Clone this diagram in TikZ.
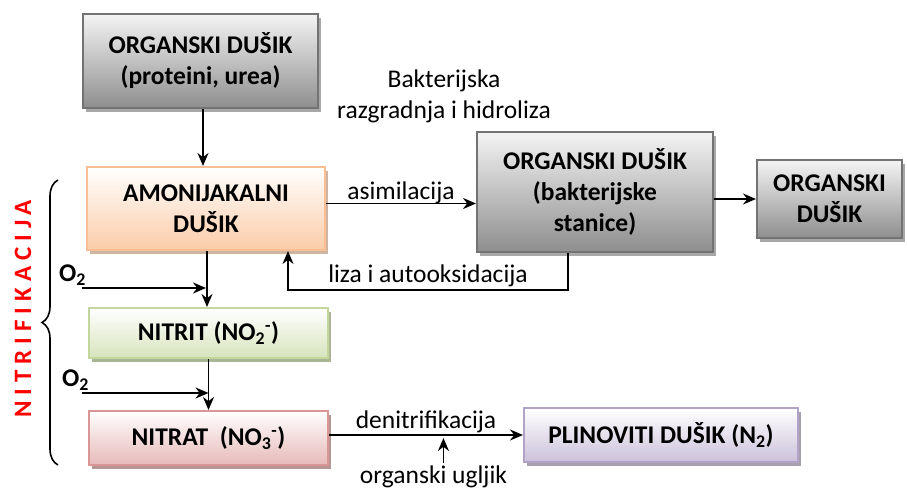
\documentclass[tikz,border=0pt]{standalone}
\usepackage{fontspec}
\setmainfont{Carlito}
\newfontfamily\razmak[LetterSpace=24]{Carlito}
\usetikzlibrary{arrows.meta,shadows,decorations.pathreplacing}

\definecolor{sivagore}{HTML}{F4F4F4}
\definecolor{sivadolje}{HTML}{8E8E8E}
\definecolor{sivarub}{HTML}{737373}
\definecolor{sivasjena}{HTML}{A8A8A8}
\definecolor{narrub}{HTML}{F9BE93}
\definecolor{nardolje}{HTML}{FBCCA8}
\definecolor{narsjena}{HTML}{CDB5A2}
\definecolor{zelrub}{HTML}{C3D69B}
\definecolor{zeldolje}{HTML}{D7E4BD}
\definecolor{zelsjena}{HTML}{AAB596}
\definecolor{crvrub}{HTML}{D99694}
\definecolor{crvdolje}{HTML}{E6B9B8}
\definecolor{crvsjena}{HTML}{B79595}
\definecolor{ljubrub}{HTML}{B3A2C7}
\definecolor{ljubdolje}{HTML}{CCC1DA}
\definecolor{ljubsjena}{HTML}{A69FB0}
\definecolor{crvena}{HTML}{FF0000}

\begin{document}
\begin{tikzpicture}[->,>={Stealth[length=13pt,width=11pt]},x=1pt,y=-1pt,
                    line width=1.9pt]
  \tikzstyle{every node}=[font=\fontsize{25.5}{31}\selectfont,align=center]
  \tikzstyle{box}=[rectangle,line width=2pt,inner sep=0pt,
                   font=\fontsize{25.5}{31}\selectfont\bfseries]
  \tikzstyle{sivi}=[box,draw=sivarub,top color=sivagore,bottom color=sivadolje,
                    drop shadow={shadow xshift=3pt,shadow yshift=-4pt,fill=sivasjena,opacity=1}]
  \tikzstyle{narancasti}=[box,draw=narrub,top color=white,bottom color=nardolje,
                    drop shadow={shadow xshift=3pt,shadow yshift=-4pt,fill=narsjena,opacity=1}]
  \tikzstyle{zeleni}=[box,draw=zelrub,top color=white,bottom color=zeldolje,
                    drop shadow={shadow xshift=3pt,shadow yshift=-4pt,fill=zelsjena,opacity=1}]
  \tikzstyle{crveni}=[box,draw=crvrub,top color=white,bottom color=crvdolje,
                    drop shadow={shadow xshift=3pt,shadow yshift=-4pt,fill=crvsjena,opacity=1}]
  \tikzstyle{ljubicasti}=[box,draw=ljubrub,top color=white,bottom color=ljubdolje,
                    drop shadow={shadow xshift=3pt,shadow yshift=-4pt,fill=ljubsjena,opacity=1}]
  \tikzstyle{oznaka}=[inner sep=0pt]
\useasboundingbox (0,0) rectangle (907,489);

\node [sivi,minimum width=235pt,minimum height=94pt] (org1) at (200.5,61) {ORGANSKI DUŠIK\\(proteini, urea)};
\node [narancasti,minimum width=238pt,minimum height=83pt] (amon) at (206,208.5) {AMONIJAKALNI\\DUŠIK};
\node [zeleni,minimum width=239pt,minimum height=50pt] (nitrit) at (208.5,333) {NITRIT (NO\textsubscript{2}\textsuperscript{-})};
\node [crveni,minimum width=239pt,minimum height=54pt] (nitrat) at (208.5,438) {NITRAT\ \ (NO\textsubscript{3}\textsuperscript{-})};
\node [sivi,minimum width=236pt,minimum height=120pt] (bakt) at (595,192) {ORGANSKI DUŠIK\\(bakterijske\\stanice)};
\node [sivi,minimum width=145pt,minimum height=78pt] (org2) at (829.5,199) {ORGANSKI\\DUŠIK};
\node [ljubicasti,minimum width=274pt,minimum height=54pt] (plin) at (661,435) {PLINOVITI DUŠIK (N\textsubscript{2})};

\node [oznaka] (razgradnja) at (444,96) {Bakterijska\\razgradnja i hidroliza};
\node [oznaka,inner ysep=2pt] (ugljik) at (433.5,477) {organski ugljik};
\node [oznaka,font=\fontsize{25.5}{31}\selectfont\bfseries] (o2a) at (72.5,275) {O\textsubscript{2}};
\node [oznaka,font=\fontsize{25.5}{31}\selectfont\bfseries] (o2b) at (75.5,380) {O\textsubscript{2}};
\node [oznaka,rotate=90,text=crvena,font=\fontsize{25}{26}\razmak\bfseries] (nitrif) at (23,309) {NITRIFIKACIJA};

\coordinate (ulaz1) at (82,288);
\coordinate (ulaz2) at (82,393);

\draw ([xshift=2.5pt]org1.south) -- ([xshift=2.5pt]org1.south |- amon.north);
\draw ([xshift=1pt]amon.south) -- ([xshift=1pt]amon.south |- nitrit.north);
\draw (nitrit) -- (nitrat);
\draw (ulaz1) -- (ulaz1 -| amon.south);
\draw (ulaz2) -- (ulaz2 -| nitrit.south);
\draw ([yshift=5pt]amon.east) -- ([yshift=5pt]amon.east -| bakt.west)
      node [oznaka,midway,above=-1.5pt] {asimilacija};
\draw (bakt.east |- org2) -- (org2.west);
\draw ([xshift=-27pt]bakt.south) -- ++(0,37) -| ([xshift=82pt]amon.south)
      node [oznaka,pos=0.25,above=2pt] {liza i autooksidacija};
\draw (nitrat.east |- plin) -- (plin.west)
      coordinate [pos=0.59] (dn)
      node [oznaka,midway,above=1pt] {denitrifikacija};
\draw (ugljik.north -| dn) -- ([yshift=-3pt]dn);

\draw [-,decorate,decoration={brace,amplitude=16pt},line width=1.6pt] (58,465) -- (58,180);
\end{tikzpicture}
\end{document}
